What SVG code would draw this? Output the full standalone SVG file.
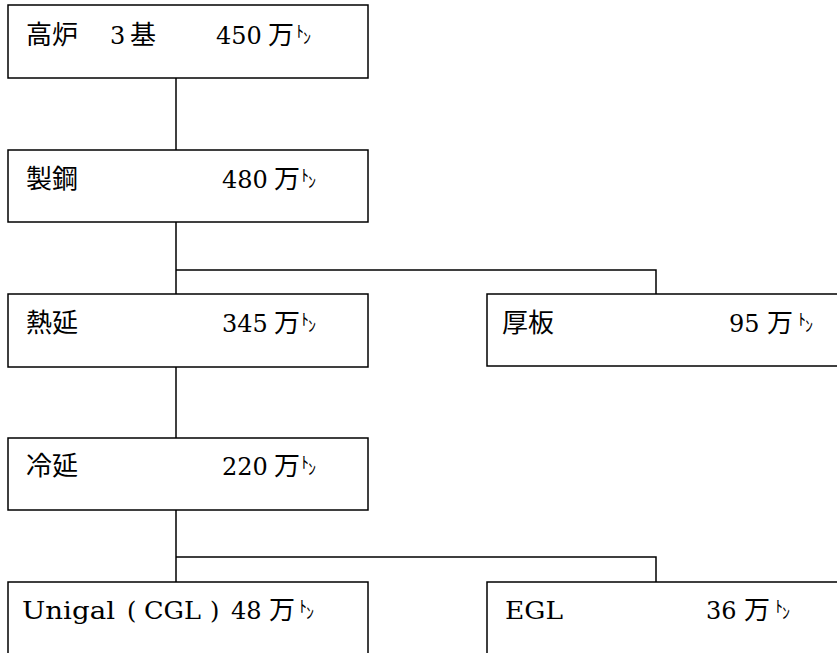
<svg xmlns="http://www.w3.org/2000/svg" width="837" height="653" viewBox="0 0 837 653">
<style>
.box{fill:#fff;stroke:#000;stroke-width:1.5}
.ln{fill:none;stroke:#000;stroke-width:1.5}
.jp{font-family:"Noto Sans CJK JP","Noto Sans",sans-serif;font-size:26px;fill:#000}
.num{font-family:"DejaVu Serif","Liberation Serif",serif;font-size:24px;fill:#000}
.sm{font-family:"Noto Sans CJK JP",sans-serif;font-size:16px;fill:#000}
</style>
<rect width="837" height="653" fill="#fff"/>
<g id="connectors">
<path class="ln" d="M176 78V150"/>
<path class="ln" d="M176 222V294M176 270H656V294"/>
<path class="ln" d="M176 367V438"/>
<path class="ln" d="M176 510V582M176 557H656V582"/>
</g>
<g id="n1">
<rect class="box" x="8" y="5" width="360" height="73"/>
<text class="jp" x="26" y="44">高炉</text>
<text class="num" x="110" y="44">3</text>
<text class="jp" x="130" y="44">基</text>
<text class="num" x="216" y="44">450</text>
<text class="jp" x="268" y="44">万</text>
<text class="sm" x="296" y="37">ﾄ</text>
<text class="sm" x="303" y="44">ﾝ</text>
</g>
<g id="n2">
<rect class="box" x="8" y="150" width="360" height="72"/>
<text class="jp" x="26" y="188">製鋼</text>
<text class="num" x="222" y="188">480</text>
<text class="jp" x="274" y="188">万</text>
<text class="sm" x="301" y="181">ﾄ</text>
<text class="sm" x="308" y="188">ﾝ</text>
</g>
<g id="n3">
<rect class="box" x="8" y="294" width="360" height="73"/>
<text class="jp" x="26" y="332">熱延</text>
<text class="num" x="222" y="332">345</text>
<text class="jp" x="274" y="332">万</text>
<text class="sm" x="301" y="325">ﾄ</text>
<text class="sm" x="308" y="332">ﾝ</text>
</g>
<g id="n4">
<rect class="box" x="487" y="294" width="360" height="72"/>
<text class="jp" x="502" y="332">厚板</text>
<text class="num" x="729" y="332">95</text>
<text class="jp" x="767" y="332">万</text>
<text class="sm" x="798" y="325">ﾄ</text>
<text class="sm" x="805" y="332">ﾝ</text>
</g>
<g id="n5">
<rect class="box" x="8" y="438" width="360" height="72"/>
<text class="jp" x="26" y="475">冷延</text>
<text class="num" x="222" y="475">220</text>
<text class="jp" x="274" y="475">万</text>
<text class="sm" x="301" y="468">ﾄ</text>
<text class="sm" x="308" y="475">ﾝ</text>
</g>
<g id="n6">
<rect class="box" x="8" y="582" width="360" height="80"/>
<text class="num" x="22" y="619" textLength="93" lengthAdjust="spacingAndGlyphs">Unigal</text>
<text class="num" x="127" y="619">(</text>
<text class="num" x="144" y="619" textLength="57" lengthAdjust="spacingAndGlyphs">CGL</text>
<text class="num" x="210" y="619">)</text>
<text class="num" x="231" y="619">48</text>
<text class="jp" x="269" y="619">万</text>
<text class="sm" x="299" y="612">ﾄ</text>
<text class="sm" x="306" y="619">ﾝ</text>
</g>
<g id="n7">
<rect class="box" x="487" y="582" width="360" height="80"/>
<text class="num" x="505" y="619" textLength="58" lengthAdjust="spacingAndGlyphs">EGL</text>
<text class="num" x="706" y="619">36</text>
<text class="jp" x="744" y="619">万</text>
<text class="sm" x="775" y="612">ﾄ</text>
<text class="sm" x="782" y="619">ﾝ</text>
</g>
</svg>
